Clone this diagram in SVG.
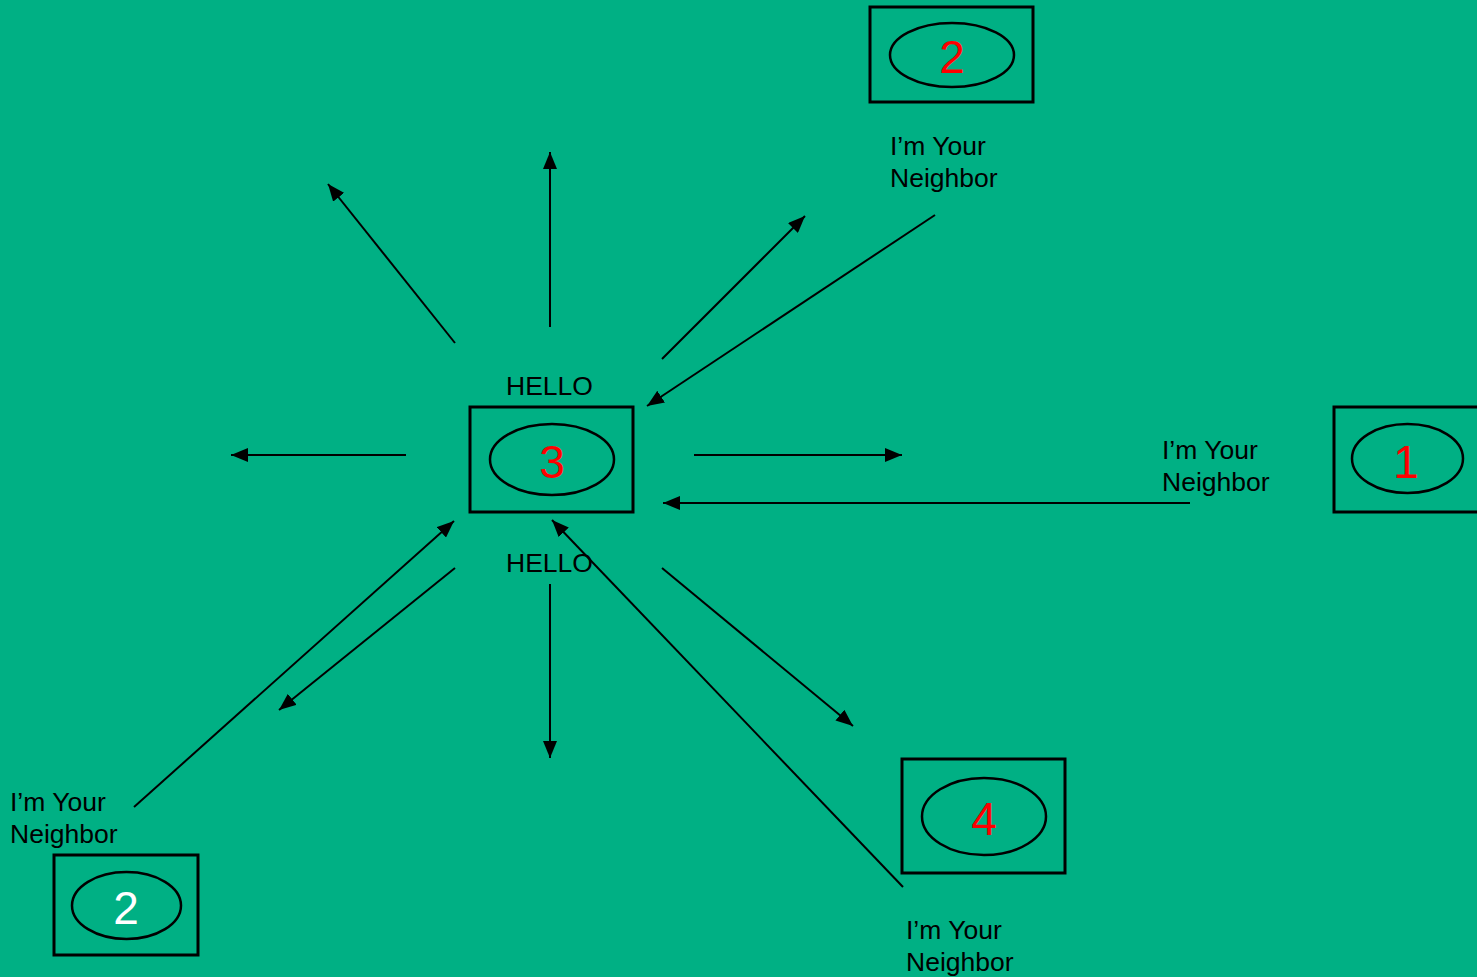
<svg xmlns="http://www.w3.org/2000/svg" width="1477" height="977" viewBox="0 0 1477 977">
  <style>
    .box { fill: none; stroke: #000; stroke-width: 3; }
    .oval { fill: none; stroke: #000; stroke-width: 2.5; }
    .num { font-family: "Liberation Sans", Arial, sans-serif; font-size: 46px; text-anchor: middle; fill: #ff0000; }
    .num.white { fill: #ffffff; }
    .lbl { font-family: "Liberation Sans", Arial, sans-serif; font-size: 26.5px; fill: #000; }
    .wire { stroke: #000; stroke-width: 2; fill: none; marker-end: url(#head); }
  </style>
  <defs>
    <marker id="head" markerUnits="userSpaceOnUse" markerWidth="18" markerHeight="14" refX="17" refY="7" orient="auto">
      <path d="M0,0 L17,7 L0,14 z" fill="#000"/>
    </marker>
  </defs>

  <rect width="1477" height="977" fill="#00B084"/>

  <!-- connectors -->
  <g id="connectors">
    <line class="wire" x1="455" y1="343" x2="328" y2="184"/>
    <line class="wire" x1="550" y1="327" x2="550" y2="152"/>
    <line class="wire" x1="662" y1="359" x2="805" y2="216"/>
    <line class="wire" x1="935" y1="215" x2="647" y2="406"/>
    <line class="wire" x1="406" y1="455" x2="231" y2="455"/>
    <line class="wire" x1="694" y1="455" x2="902" y2="455"/>
    <line class="wire" x1="1190" y1="503" x2="663" y2="503"/>
    <line class="wire" x1="455" y1="568" x2="279" y2="710"/>
    <line class="wire" x1="134" y1="807" x2="454" y2="521"/>
    <line class="wire" x1="550" y1="584" x2="550" y2="758"/>
    <line class="wire" x1="662" y1="568" x2="853" y2="726"/>
    <line class="wire" x1="903" y1="887" x2="552" y2="520"/>
  </g>

  <!-- router 3 (sender) -->
  <g id="node3">
    <rect class="box" x="470" y="407" width="163" height="105"/>
    <ellipse class="oval" cx="552" cy="459.5" rx="62" ry="35.5"/>
    <text class="num" x="552" y="478">3</text>
    <text class="lbl" x="506" y="395">HELLO</text>
    <text class="lbl" x="506" y="572">HELLO</text>
  </g>

  <!-- router 2 (top) -->
  <g id="node2top">
    <rect class="box" x="870" y="7" width="163" height="95"/>
    <ellipse class="oval" cx="952" cy="55" rx="62" ry="32"/>
    <text class="num" x="952" y="73">2</text>
    <text class="lbl" x="890" y="155">I’m Your</text>
    <text class="lbl" x="890" y="187">Neighbor</text>
  </g>

  <!-- router 1 -->
  <g id="node1">
    <rect class="box" x="1334" y="407" width="150" height="105"/>
    <ellipse class="oval" cx="1407.5" cy="458.5" rx="55.5" ry="34.5"/>
    <text class="num" x="1406" y="478">1</text>
    <text class="lbl" x="1162" y="459">I’m Your</text>
    <text class="lbl" x="1162" y="491">Neighbor</text>
  </g>

  <!-- router 2 (bottom left) -->
  <g id="node2bottom">
    <rect class="box" x="54" y="855" width="144" height="100"/>
    <ellipse class="oval" cx="126.5" cy="905.5" rx="54.5" ry="33.5"/>
    <text class="num white" x="126" y="924">2</text>
    <text class="lbl" x="10" y="811">I’m Your</text>
    <text class="lbl" x="10" y="843">Neighbor</text>
  </g>

  <!-- router 4 -->
  <g id="node4">
    <rect class="box" x="902" y="759" width="163" height="114"/>
    <ellipse class="oval" cx="984" cy="816.5" rx="62" ry="38.5"/>
    <text class="num" x="984" y="835">4</text>
    <text class="lbl" x="906" y="939">I’m Your</text>
    <text class="lbl" x="906" y="971">Neighbor</text>
  </g>
</svg>
